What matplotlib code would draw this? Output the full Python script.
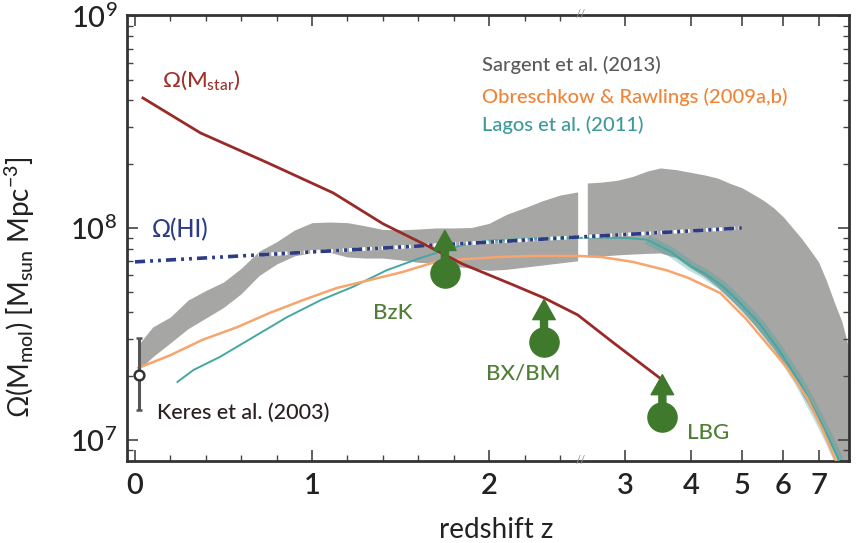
import numpy as np
import matplotlib
matplotlib.use("Agg")
import matplotlib.pyplot as plt

plt.rcParams["font.family"] = ["Lato", "DejaVu Sans"]
plt.rcParams["font.weight"] = "medium"
plt.rcParams["mathtext.fontset"] = "custom"
plt.rcParams["mathtext.rm"] = "Lato:medium"
plt.rcParams["mathtext.it"] = "Lato:italic"
plt.rcParams["mathtext.bf"] = "Lato:bold"
plt.rcParams["mathtext.fallback"] = "stixsans"

# ---------------- data (log10 Omega [Msun Mpc^-3]) ----------------
# Sargent et al. (2013) band, left (linear z) part
sargent_z_left = [0.02, 0.1, 0.2, 0.3, 0.4, 0.5, 0.6, 0.7, 0.8, 0.9, 1.0, 1.1, 1.2,
                  1.3, 1.4, 1.5, 1.6, 1.7, 1.8, 1.9, 2.0, 2.1, 2.2, 2.3, 2.4, 2.5]
sargent_hi_left = [7.45, 7.533, 7.58, 7.66, 7.705, 7.745, 7.81, 7.89, 7.935, 7.99, 8.025,
                   8.028, 8.025, 8.01, 7.993, 7.991, 7.995, 8.0, 8.0, 8.002, 8.022, 8.065,
                   8.095, 8.128, 8.155, 8.17]
sargent_lo_left = [7.33, 7.392, 7.458, 7.525, 7.575, 7.625, 7.69, 7.775, 7.83, 7.868, 7.884,
                   7.885, 7.863, 7.858, 7.858, 7.849, 7.838, 7.833, 7.82, 7.81, 7.80, 7.805,
                   7.815, 7.825, 7.835, 7.845]
# Sargent et al. (2013) band, right (log z) part
sargent_z_right = [2.54, 2.7, 2.9, 3.1, 3.3, 3.5, 3.75, 4.0, 4.25, 4.5, 4.75, 5.0, 5.25,
                   5.5, 5.75, 6.0, 6.25, 6.5, 6.75, 7.0, 7.25, 7.5, 7.75, 8.0, 8.3]
sargent_hi_right = [8.212, 8.216, 8.225, 8.243, 8.268, 8.283, 8.275, 8.262, 8.25, 8.235,
                    8.21, 8.19, 8.16, 8.13, 8.095, 8.052, 8.0, 7.95, 7.895, 7.84, 7.75,
                    7.65, 7.56, 7.43, 7.25]
sargent_lo_right = [7.863, 7.868, 7.873, 7.877, 7.88, 7.882, 7.86, 7.81, 7.77, 7.72,
                    7.665, 7.61, 7.55, 7.49, 7.43, 7.36, 7.30, 7.22, 7.15, 7.08, 7.01,
                    6.94, 6.87, 6.78, 6.65]

# Obreschkow & Rawlings (2009a,b)
obr_z = [0.02, 0.2, 0.38, 0.58, 0.76, 0.95, 1.14, 1.33, 1.51, 1.68, 1.85, 2.06, 2.25, 2.5,
         2.7, 3.1, 3.6, 3.95, 4.55, 5.1, 5.6, 6.1, 6.65, 7.15, 7.5, 7.7, 8.0]
obr_logrho = [7.34, 7.40, 7.472, 7.533, 7.599, 7.66, 7.717, 7.755, 7.792, 7.835, 7.852,
              7.863, 7.868, 7.868, 7.863, 7.84, 7.80, 7.765, 7.693, 7.57, 7.45, 7.34,
              7.20, 7.04, 6.92, 6.86, 6.75]

# Lagos et al. (2011)
lagos_z = [0.24, 0.33, 0.48, 0.67, 0.86, 1.05, 1.23, 1.42, 1.6, 1.75, 1.85, 2.0, 2.25,
           2.5, 2.7, 3.0, 3.3, 3.65, 4.0, 4.25, 4.6, 4.9, 5.4, 5.9, 6.45, 6.95, 7.35, 7.6, 8.0]
lagos_logrho = [7.274, 7.330, 7.392, 7.486, 7.580, 7.660, 7.722, 7.800, 7.855, 7.895, 7.920,
                7.940, 7.950, 7.953, 7.955, 7.953, 7.945, 7.89, 7.82, 7.785, 7.725, 7.66,
                7.55, 7.42, 7.27, 7.12, 7.0, 6.92, 6.78]

# Omega(HI)
hi_z = [0.0, 1.0, 2.0, 2.5, 3.0, 4.0, 5.0]
hi_logrho = [7.840, 7.887, 7.933, 7.957, 7.969, 7.986, 8.0]

# Omega(M_star)
star_z = [0.045, 0.37, 0.75, 1.12, 1.40, 1.67, 1.85, 2.14, 2.31, 2.5, 2.85, 3.5]
star_logrho = [8.613, 8.448, 8.307, 8.165, 8.02, 7.908, 7.83, 7.73, 7.67, 7.59, 7.458, 7.29]

# Keres et al. (2003) local point
keres_z = [0.02]
keres_logrho = [7.307]
keres_lo = [7.142]
keres_hi = [7.481]

# Lower limits from galaxy samples
sample_names = ["BzK", "BX/BM", "LBG"]
sample_z = [1.75, 2.31, 3.53]
sample_logrho = [7.788, 7.462, 7.108]
sample_arrow_dex = [0.2, 0.2, 0.2]

x_ticks = [0, 1, 2, 3, 4, 5, 6, 7]
x_minor = [0.2, 0.4, 0.6, 0.8, 1.2, 1.4, 1.6, 1.8, 2.2, 2.4]
y_ticks = [1e7, 1e8, 1e9]
y_ticklabels = ["$10^{7}$", "$10^{8}$", "$10^{9}$"]

# ---------------- broken redshift scale ----------------
ZB = 2.5        # break: linear below, log(z) above
KLOG = 2.966    # axis units per dex on the right
CLOG = 1.3537
UB = CLOG + KLOG * np.log10(ZB)


def fwd(z):
    z = np.asarray(z, dtype=float)
    zc = np.clip(z, 1e-6, None)
    return np.where(z <= ZB, z, CLOG + KLOG * np.log10(zc))


def inv(u):
    u = np.asarray(u, dtype=float)
    right = 10 ** ((np.clip(u, UB, 50) - CLOG) / KLOG)
    return np.where(u <= ZB, u, np.where(u < UB, ZB, right))


C_GRAY = "#a6a6a4"
C_ORANGE = "#f6a56e"
C_TEAL = "#45a7a2"
C_RED = "#992a28"
C_NAVY = "#2c3b86"
C_GREEN = "#3f7a2c"
C_GREEN_TXT = "#4f7f35"

fig = plt.figure(figsize=(8.56, 5.43), dpi=100)
ax = fig.add_axes([127 / 856, 1 - 461 / 543, 722 / 856, 446 / 543])
ax.set_xscale("function", functions=(fwd, inv))
ax.set_yscale("log")

p = lambda v: 10 ** np.asarray(v, dtype=float)

# Sargent band
ax.fill_between(sargent_z_left, p(sargent_lo_left), p(sargent_hi_left),
                color=C_GRAY, lw=0, zorder=1)
ax.fill_between(sargent_z_right, p(sargent_lo_right), p(sargent_hi_right),
                color=C_GRAY, lw=0, zorder=1)

# Lagos (teal) - wide translucent stripe on the high-z part + thin line
lz = np.asarray(lagos_z)
m = lz >= 3.3
ax.plot(lz[m], p(lagos_logrho)[m], color=C_TEAL, lw=7, alpha=0.35,
        solid_capstyle="butt", zorder=2)
ax.plot(lagos_z, p(lagos_logrho), color=C_TEAL, lw=1.4, zorder=3)

# Obreschkow (orange)
ax.plot(obr_z, p(obr_logrho), color=C_ORANGE, lw=1.8, zorder=3)

# HI
ax.plot(hi_z, p(hi_logrho), color="white", lw=2.6,
        linestyle=(0, (0.9, 0.9)), zorder=4)
ax.plot(hi_z, p(hi_logrho), color=C_NAVY, lw=2.6,
        linestyle=(0, (2.8, 1.4, 0.8, 1.4, 0.8, 1.4)), zorder=5)

# stellar mass
ax.plot(star_z, p(star_logrho), color=C_RED, lw=2.0, zorder=6)

# Keres point
ax.errorbar(keres_z, p(keres_logrho),
            yerr=[p(keres_logrho) - p(keres_lo), p(keres_hi) - p(keres_logrho)],
            fmt="o", ms=7, mfc="white", mec="#333333", mew=1.8,
            ecolor="#555555", elinewidth=2.2, capsize=2, zorder=7)

# Lower limits
for zz, ll, dd in zip(sample_z, sample_logrho, sample_arrow_dex):
    ax.annotate("", xy=(zz, p(ll + dd)), xytext=(zz, p(ll)),
                arrowprops=dict(arrowstyle="simple,head_length=0.8,head_width=0.9,tail_width=0.28",
                                color=C_GREEN, mutation_scale=18, shrinkA=0, shrinkB=0),
                zorder=8)
ax.plot(sample_z, p(sample_logrho), "o", ms=21, color=C_GREEN, zorder=8)

# axes limits / ticks
ax.set_xlim(-0.045, 8.0)
ax.set_ylim(7.96e6, 1.01e9)
ax.set_xticks(x_ticks)
ax.set_xticklabels([str(t) for t in x_ticks], fontweight="semibold")
ax.set_xticks(x_minor, minor=True)
ax.set_yticks(y_ticks)
ax.set_yticklabels(y_ticklabels)
ax.tick_params(which="both", direction="in", top=True, right=True, color="#444444")
ax.tick_params(which="major", length=8, width=1.2, labelsize=21, pad=7,
               labelcolor="#222222")
ax.tick_params(which="minor", length=4, width=1.0)
ax.tick_params(axis="x", which="major", pad=9)
for s in ax.spines.values():
    s.set_linewidth(2.0)
    s.set_color("#333333")

ax.set_xlabel("redshift z", fontsize=20, color="#222222")
ax.xaxis.set_label_coords(0.512, -0.125)
ax.set_ylabel(r"Ω(M$_{\rm mol}$) [M$_{\rm sun}$ Mpc$^{-3}$]", fontsize=20, color="#222222")
ax.yaxis.set_label_coords(-0.125, 0.39)

# break marks
xa = (0.5 * (ZB + UB) - (-0.045)) / (fwd(8.0) - (-0.045))
for ya in (0.0, 1.0):
    ax.text(xa, ya, "//", transform=ax.transAxes, ha="center", va="center",
            fontsize=8, color="#9a9a9a", clip_on=False, zorder=10)

# texts
ax.text(0.0485, 0.854, r"Ω(M$_{\rm star}$)", transform=ax.transAxes, fontsize=16,
        color="#a0302a", va="center", ha="left")
ax.text(0.035, 0.518, "Ω(HI)", transform=ax.transAxes, fontsize=17,
        color=C_NAVY, va="center", ha="left")
ax.text(0.4917, 0.888, "Sargent et al. (2013)", transform=ax.transAxes, fontsize=14.5,
        color="#5a5a5a", va="center", ha="left")
ax.text(0.4917, 0.816, "Obreschkow & Rawlings (2009a,b)", transform=ax.transAxes,
        fontsize=14.5, color="#f08436", va="center", ha="left")
ax.text(0.4917, 0.753, "Lagos et al. (2011)", transform=ax.transAxes, fontsize=14.5,
        color="#3d9a9a", va="center", ha="left")
ax.text(0.0416, 0.108, "Keres et al. (2003)", transform=ax.transAxes, fontsize=15.5,
        color="#2a2020", va="center", ha="left")
label_pos = [(0.368, 0.332), (0.549, 0.197), (0.805, 0.063)]
for name, (fx, fy) in zip(sample_names, label_pos):
    ax.text(fx, fy, name, transform=ax.transAxes, fontsize=16, color=C_GREEN_TXT,
            va="center", ha="center", zorder=9)

fig.savefig("out.png", dpi=100)
